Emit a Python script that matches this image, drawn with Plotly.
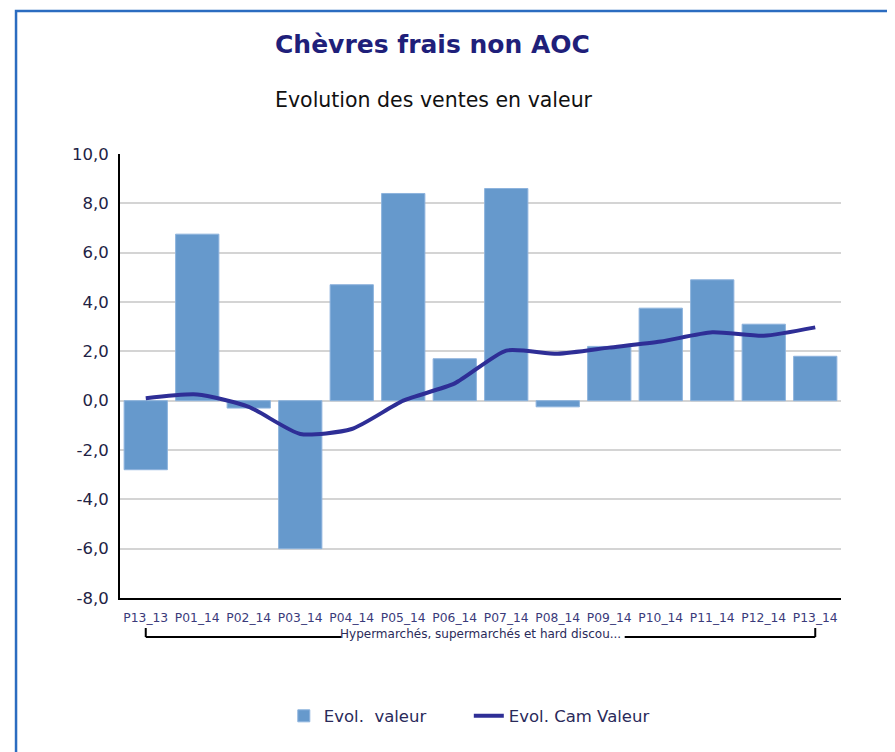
import plotly.graph_objects as go

categories = ["P13_13", "P01_14", "P02_14", "P03_14", "P04_14", "P05_14", "P06_14",
              "P07_14", "P08_14", "P09_14", "P10_14", "P11_14", "P12_14", "P13_14"]
evol_valeur = [-2.8, 6.75, -0.3, -6.0, 4.7, 8.4, 1.7, 8.6, -0.25, 2.2, 3.75, 4.9, 3.1, 1.8]
evol_cam_valeur = [0.1, 0.25, -0.25, -1.35, -1.15, 0.0, 0.7, 2.03, 1.9, 2.15, 2.4, 2.77, 2.63, 2.97]
y_tickvals = [-8, -6, -4, -2, 0, 2, 4, 6, 8, 10]
y_ticktext = ["-8,0", "-6,0", "-4,0", "-2,0", "0,0", "2,0", "4,0", "6,0", "8,0", "10,0"]
group_label = "Hypermarchés, supermarchés et hard discou..."

FONT = "DejaVu Sans"

fig = go.Figure()
fig.add_trace(go.Bar(
    x=categories, y=evol_valeur, name="Evol.\u00a0 valeur",
    marker=dict(color="#6699CC", line=dict(color="#8DB3DD", width=1)),
))
fig.add_trace(go.Scatter(
    x=categories, y=evol_cam_valeur, name="Evol. Cam Valeur", mode="lines",
    line=dict(color="#2E2E96", width=4, shape="spline", smoothing=0.6),
))

shapes = [
    # outer blue frame
    dict(type="rect", xref="paper", yref="paper", x0=-0.1442, x1=1.2, y0=-0.5, y1=1.322,
         line=dict(color="#2B6CC0", width=2.5), fillcolor="rgba(0,0,0,0)", layer="above"),
    # bracket
    dict(type="line", xref="x", yref="paper", x0=0, x1=0, y0=-0.0676, y1=-0.0878,
         line=dict(color="black", width=2)),
    dict(type="line", xref="x", yref="paper", x0=0, x1=3.8, y0=-0.0878, y1=-0.0878,
         line=dict(color="black", width=2)),
    dict(type="line", xref="x", yref="paper", x0=9.3, x1=13, y0=-0.0878, y1=-0.0878,
         line=dict(color="black", width=2)),
    dict(type="line", xref="x", yref="paper", x0=13, x1=13, y0=-0.0676, y1=-0.0878,
         line=dict(color="black", width=2)),
]

annotations = [
    dict(text="<b>Chèvres frais non AOC</b>", xref="paper", yref="paper", x=0.434, y=1.2455,
         showarrow=False, xanchor="center", yanchor="middle",
         font=dict(family=FONT, size=25, color="#1F1F7A")),
    dict(text="Evolution des ventes en valeur", xref="paper", yref="paper", x=0.436, y=1.1216,
         showarrow=False, xanchor="center", yanchor="middle",
         font=dict(family=FONT, size=20.5, color="#111111")),
    dict(text=group_label, xref="x", yref="paper", x=6.5, y=-0.081,
         showarrow=False, xanchor="center", yanchor="middle",
         font=dict(family=FONT, size=12, color="#2A2A5A")),
]

fig.update_layout(
    width=887, height=744,
    margin=dict(l=112, r=54, t=146, b=154),
    paper_bgcolor="white", plot_bgcolor="white",
    bargap=0.16,
    showlegend=True,
    legend=dict(orientation="h", x=0.2272, xanchor="left", y=-0.266, yanchor="middle",
                font=dict(family=FONT, size=16.5, color="#2A2A5A"), itemwidth=30,
                entrywidth=140),
    shapes=shapes, annotations=annotations,
    font=dict(family=FONT),
)
fig.update_xaxes(
    type="category", tickangle=0, showgrid=False, showline=True, linecolor="black", linewidth=2,
    tickfont=dict(family=FONT, size=12.3, color="#3A3A7A"), ticks="", ticklen=0,
    ticklabelstandoff=7,
    range=[-0.5, 13.5],
)
fig.update_yaxes(
    range=[-8, 10], tickvals=y_tickvals, ticktext=y_ticktext,
    showgrid=True, gridcolor="#D4D4D4", gridwidth=2,
    zeroline=True, zerolinecolor="#D4D4D4", zerolinewidth=2,
    showline=True, linecolor="black", linewidth=2,
    tickfont=dict(family=FONT, size=16.5, color="#222244"), ticks="", ticklabelstandoff=6,
)

fig.write_html("out.html")
